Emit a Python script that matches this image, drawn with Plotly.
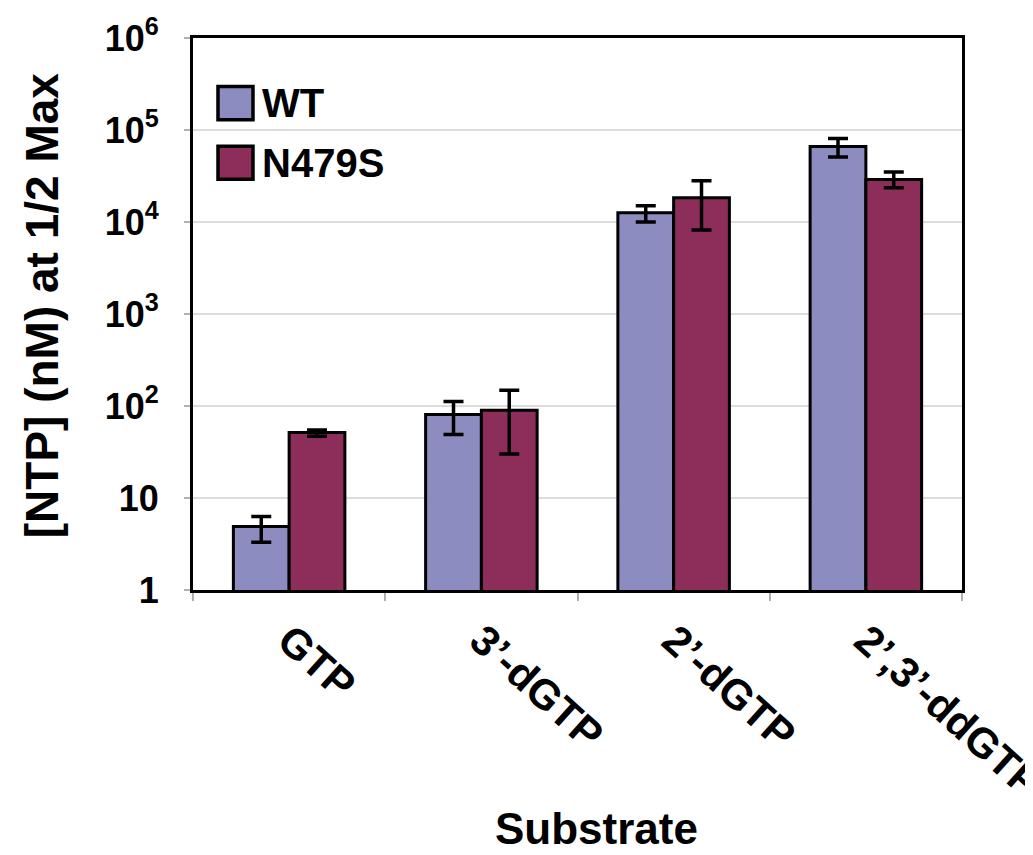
import plotly.graph_objects as go

categories = ["GTP", "3\u2019-dGTP", "2\u2019-dGTP", "2\u2019,3\u2019-ddGTP"]
series_names = ["WT", "N479S"]
wt_values = [4.9, 81, 12600, 66000]
wt_upper = [6.3, 112, 15000, 81000]
wt_lower = [3.3, 49, 10000, 51000]
mut_values = [51.5, 90, 18300, 29000]
mut_upper = [55, 148, 28000, 35000]
mut_lower = [47, 30, 8200, 23600]
ytick_vals = [1, 10, 100, 1000, 10000, 100000, 1000000]
ytick_text = ["1", "10", "10<sup>2</sup>", "10<sup>3</sup>", "10<sup>4</sup>", "10<sup>5</sup>", "10<sup>6</sup>"]

colors = ["#8C8CC0", "#8C2D5A"]
FONT = "Liberation Sans, Arial, sans-serif"

fig = go.Figure()
for name, vals, up, lo, col in [
    (series_names[0], wt_values, wt_upper, wt_lower, colors[0]),
    (series_names[1], mut_values, mut_upper, mut_lower, colors[1]),
]:
    fig.add_trace(go.Bar(
        x=categories, y=vals, name=name,
        marker=dict(color=col, line=dict(color="black", width=3)),
        error_y=dict(type="data", symmetric=False,
                     array=[u - v for u, v in zip(up, vals)],
                     arrayminus=[v - l for v, l in zip(vals, lo)],
                     color="black", thickness=3.5, width=10),
        showlegend=False,
    ))

fig.update_layout(
    width=1033, height=855,
    margin=dict(l=185, r=79, t=30, b=273),
    paper_bgcolor="white", plot_bgcolor="white",
    barmode="group", bargap=0.42, bargroupgap=0,
    font=dict(family=FONT, size=30, color="black"),
    xaxis=dict(
        type="category", tickson="boundaries", ticks="outside", ticklen=8,
        tickcolor="#B0B0B0", tickwidth=2, automargin=False,
        showline=True, linecolor="black", linewidth=3, mirror=True,
        tickangle=42, ticklabelstandoff=6,
        tickfont=dict(family=FONT, size=42, color="black", weight="bold"),
        showgrid=False,
    ),
    yaxis=dict(
        type="log", range=[0, 6], tickvals=ytick_vals, ticktext=ytick_text,
        ticks="outside", ticklen=6, tickcolor="#B0B0B0", tickwidth=2, automargin=False,
        showline=True, linecolor="black", linewidth=3, mirror=True,
        showgrid=True, gridcolor="#DCDCDC", gridwidth=2,
        ticklabelstandoff=18,
        tickfont=dict(family=FONT, size=36, color="black", weight="bold"),
    ),
)

# Axis titles
fig.add_annotation(xref="paper", yref="paper", x=-0.197, y=0.515, xanchor="center", yanchor="middle",
                   text="[NTP] (nM) at 1/2 Max", textangle=-90, showarrow=False,
                   font=dict(family=FONT, size=46, color="black", weight="bold"))
fig.add_annotation(xref="paper", yref="paper", x=0.525, y=-0.432, xanchor="center", yanchor="middle",
                   text="Substrate", showarrow=False,
                   font=dict(family=FONT, size=44, color="black", weight="bold"))

# Legend (drawn manually to match large swatches)
leg_y = [0.882, 0.774]
for name, col, yc in zip(series_names, colors, leg_y):
    fig.add_shape(type="rect", xref="paper", yref="paper",
                  x0=0.0325, x1=0.078, y0=yc - 0.03, y1=yc + 0.03,
                  fillcolor=col, line=dict(color="black", width=3.5))
    fig.add_annotation(xref="paper", yref="paper", x=0.087, y=yc, xanchor="left", yanchor="middle",
                       text=name, showarrow=False,
                       font=dict(family=FONT, size=40, color="black", weight="bold"))

fig.write_html("out.html")
